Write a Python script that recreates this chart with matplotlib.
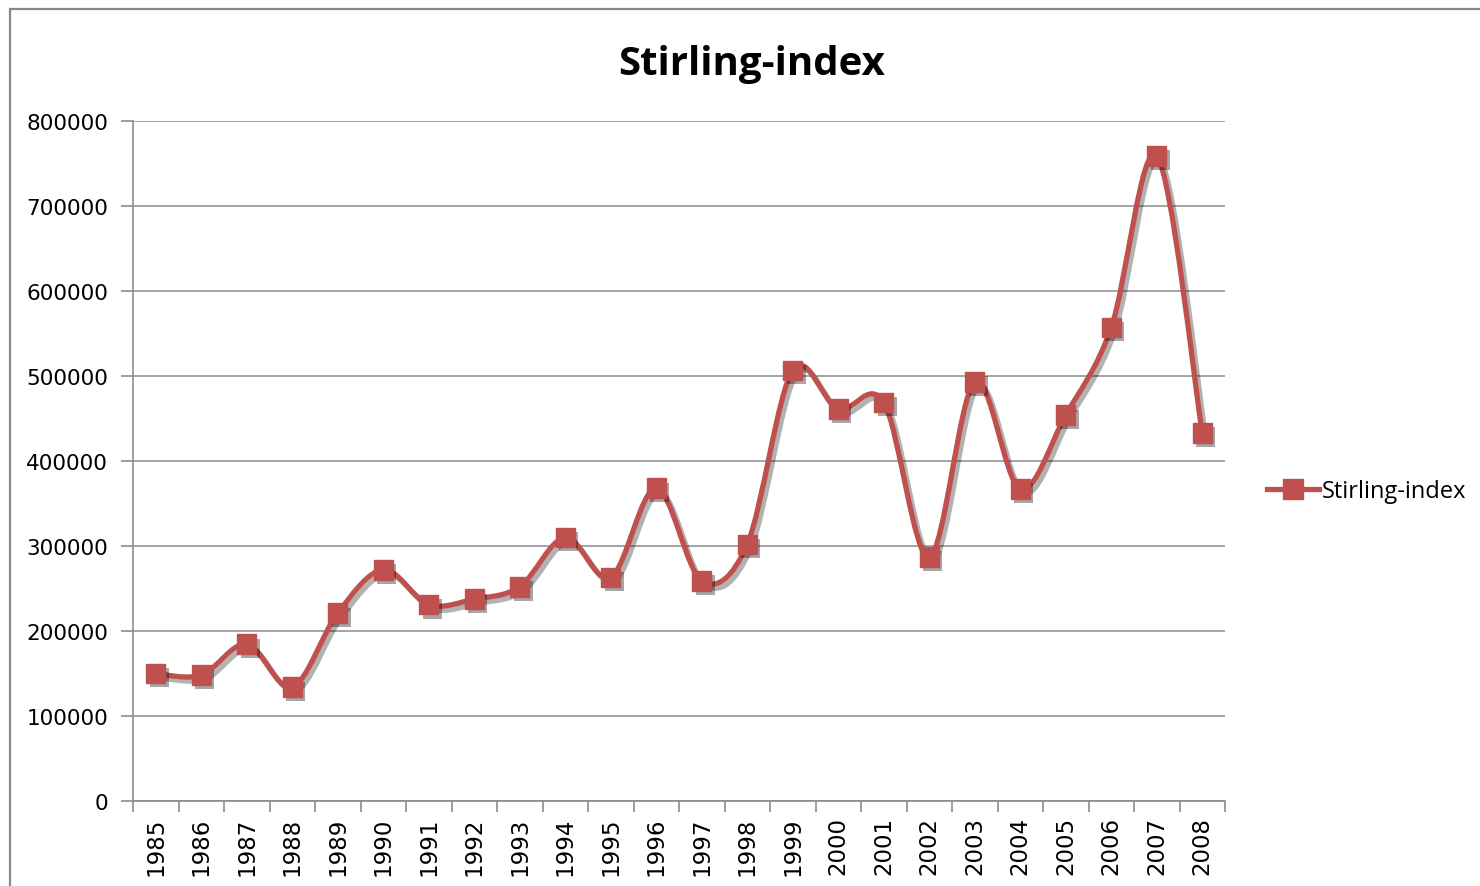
import numpy as np
import matplotlib.pyplot as plt
from matplotlib.path import Path
from matplotlib.patches import PathPatch, Rectangle
from matplotlib.lines import Line2D
import matplotlib.patheffects as pe

years = list(range(1985, 2009))
values = [150000, 148000, 184500, 134000, 221000, 272000, 231000, 237500,
          252000, 310000, 263000, 368000, 259000, 302000, 506500, 461000,
          469000, 287000, 493000, 367000, 454000, 557000, 759000, 433000]
yticks = [0, 100000, 200000, 300000, 400000, 500000, 600000, 700000, 800000]

RED = '#C0504D'
GRID = '#8c8c8c'

plt.rcParams['font.family'] = ['DejaVu Sans']

fig = plt.figure(figsize=(14.8, 8.87), dpi=100)
ax = fig.add_axes([133 / 1480, 1 - 802 / 887, 1092 / 1480, 680 / 887])

x = np.arange(len(years), dtype=float)
y = np.array(values, dtype=float)

# Excel-style smoothed line: Catmull-Rom segments as cubic Beziers
px = np.concatenate([[x[0]], x, [x[-1]]])
py = np.concatenate([[y[0]], y, [y[-1]]])
verts = [(x[0], y[0])]
codes = [Path.MOVETO]
for i in range(1, len(px) - 2):
    c1 = (px[i] + (px[i + 1] - px[i - 1]) / 6, py[i] + (py[i + 1] - py[i - 1]) / 6)
    c2 = (px[i + 1] - (px[i + 2] - px[i]) / 6, py[i + 1] - (py[i + 2] - py[i]) / 6)
    verts += [c1, c2, (px[i + 1], py[i + 1])]
    codes += [Path.CURVE4] * 3

curve = PathPatch(Path(verts, codes), facecolor='none', edgecolor=RED, lw=3.8,
                  capstyle='round', joinstyle='round', zorder=3)
curve.set_path_effects([pe.SimpleLineShadow(offset=(2.5, -3), shadow_color='k', alpha=0.3),
                        pe.Normal()])
ax.add_patch(curve)

ax.plot(x, y, ls='none', marker='s', ms=14, color=RED, zorder=4,
        path_effects=[pe.SimplePatchShadow(offset=(2.5, -3), shadow_rgbFace='k', alpha=0.35),
                      pe.Normal()])

ax.set_xlim(-0.5, len(years) - 0.5)
ax.set_ylim(0, 800000)
ax.set_yticks(yticks)
ax.set_yticklabels([str(v) for v in yticks], fontsize=15.5)
ax.set_xticks(x)
ax.set_xticklabels([str(v) for v in years], rotation=90, fontsize=16.5)
ax.set_xticks(np.arange(-0.5, len(years)), minor=True)
ax.tick_params(axis='x', which='major', length=0, pad=11)
ax.tick_params(axis='x', which='minor', length=8, color=GRID, width=1.2)
ax.tick_params(axis='y', length=9, color=GRID, width=1.2, pad=9)

ax.grid(axis='y', color=GRID, lw=1.1)
ax.set_axisbelow(True)
for s in ['top', 'right']:
    ax.spines[s].set_visible(False)
for s in ['left', 'bottom']:
    ax.spines[s].set_color(GRID)
    ax.spines[s].set_linewidth(1.2)

fig.text(752 / 1480, 1 - 64 / 887, 'Stirling-index', ha='center', va='center',
         fontsize=29, fontweight='bold', family='Open Sans')

handle = Line2D([], [], color=RED, lw=3.8, marker='s', ms=14)
fig.legend([handle], ['Stirling-index'], loc='center left',
           bbox_to_anchor=(1258 / 1480, 1 - 492 / 887), frameon=False,
           prop={'family': 'Open Sans', 'size': 17}, handlelength=2.2,
           handletextpad=0.1, borderaxespad=0)

fig.patches.append(Rectangle((10 / 1480, -0.1), 1.2, 1 - 10 / 887 + 0.1,
                             transform=fig.transFigure, fill=False,
                             edgecolor='#888888', lw=1.6))

fig.savefig('out.png', dpi=100)
